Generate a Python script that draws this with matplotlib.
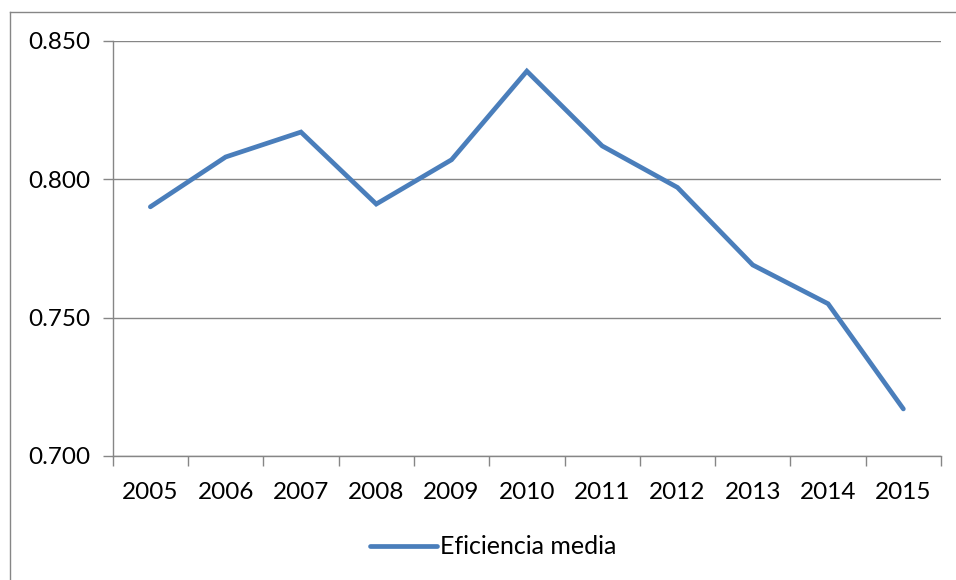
import matplotlib

matplotlib.use("Agg")
import matplotlib.pyplot as plt
from matplotlib.lines import Line2D
import numpy as np

years = ["2005", "2006", "2007", "2008", "2009", "2010",
         "2011", "2012", "2013", "2014", "2015"]
eficiencia = [0.790, 0.808, 0.817, 0.791, 0.807, 0.839,
              0.812, 0.797, 0.769, 0.755, 0.717]
yticks = [0.700, 0.750, 0.800, 0.850]

LINE_BLUE = "#4A7EBB"
GRID_GRAY = "#868686"

plt.rcParams["font.family"] = ["Lato", "DejaVu Sans"]

W, H = 956, 580
fig = plt.figure(figsize=(W / 100, H / 100), dpi=100)

# chart-area frame: only top and left edges fall inside the image
fig.add_artist(Line2D([10 / W, 1], [1 - 12 / H, 1 - 12 / H], color=GRID_GRAY, lw=1.0))
fig.add_artist(Line2D([10 / W, 10 / W], [0, 1 - 12 / H], color=GRID_GRAY, lw=1.0))

left, right, top, bottom = 112.7, 941, 40.7, 456
ax = fig.add_axes([left / W, 1 - bottom / H, (right - left) / W, (bottom - top) / H])

x = np.arange(len(years))
ax.plot(x, eficiencia, color=LINE_BLUE, lw=3.4, solid_joinstyle="miter",
        solid_capstyle="round", label="Eficiencia media", zorder=3)

ax.set_xlim(-0.5, len(years) - 0.5)
ax.set_ylim(0.700, 0.850)
ax.set_yticks(yticks)
ax.set_yticklabels([f"{v:.3f}" for v in yticks])
ax.yaxis.grid(True, color=GRID_GRAY, lw=1.0)
ax.set_axisbelow(True)

# category labels centred, tick marks on category boundaries
ax.set_xticks(x)
ax.set_xticklabels(years)
ax.set_xticks(np.arange(-0.5, len(years)), minor=True)
ax.tick_params(axis="x", which="major", length=0, pad=19, labelsize=17.5)
ax.tick_params(axis="x", which="minor", length=7, color=GRID_GRAY, width=1.0)
ax.tick_params(axis="y", length=7, color=GRID_GRAY, width=1.0, pad=9, labelsize=17.5)

for side in ("top", "right"):
    ax.spines[side].set_visible(False)
for side in ("left", "bottom"):
    ax.spines[side].set_color(GRID_GRAY)
    ax.spines[side].set_linewidth(1.0)

leg = fig.legend(loc="center", bbox_to_anchor=(493 / W, 1 - 547 / H), frameon=False,
                 fontsize=18, handlelength=2.7, handletextpad=0.1)

fig.savefig("out.png", dpi=100)
